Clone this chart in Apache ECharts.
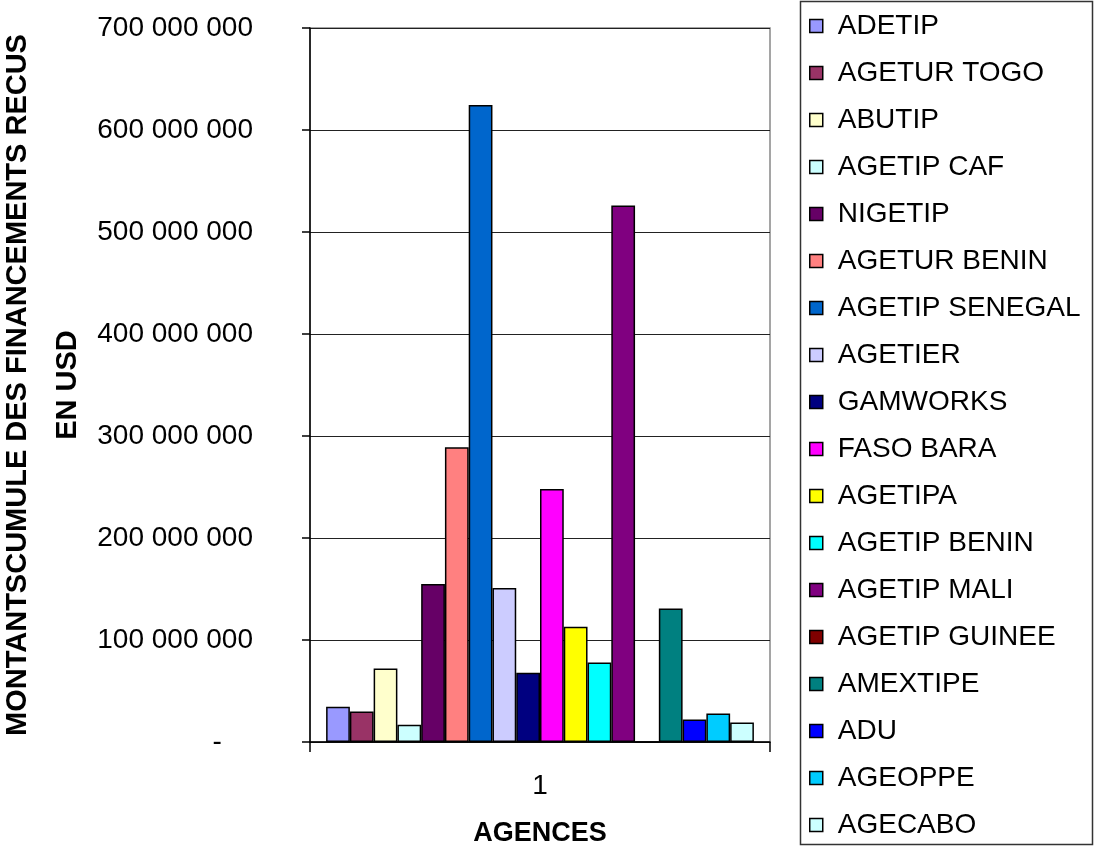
<!DOCTYPE html>
<html>
<head>
<meta charset="utf-8">
<title>Financements reçus par agence</title>
<script src="https://cdn.jsdelivr.net/npm/echarts@6/dist/echarts.min.js"></script>
<style>
  html, body { margin: 0; padding: 0; background: #fff; }
  #chartAgences { width: 1095px; height: 848px; }
</style>
</head>
<body>
<div id="chartAgences"></div>
<script>
// categorie unique de l'axe x
let categories = ['1']
// agences (une serie par agence)
let agences = ['ADETIP', 'AGETUR TOGO', 'ABUTIP', 'AGETIP CAF', 'NIGETIP', 'AGETUR BENIN', 'AGETIP SENEGAL', 'AGETIER', 'GAMWORKS', 'FASO BARA', 'AGETIPA', 'AGETIP BENIN', 'AGETIP MALI', 'AGETIP GUINEE', 'AMEXTIPE', 'ADU', 'AGEOPPE', 'AGECABO']
// montants cumules en USD
let montants = [34500000, 29800000, 72000000, 17000000, 155000000, 289000000, 624500000, 151000000, 68000000, 248000000, 113000000, 78000000, 526000000, 0, 131000000, 22000000, 28000000, 19000000]
// couleurs de la palette excel
let couleurs = ['#9999FF', '#993366', '#FFFFCC', '#CCFFFF', '#660066', '#FF8080', '#0066CC', '#CCCCFF', '#000080', '#FF00FF', '#FFFF00', '#00FFFF', '#800080', '#800000', '#008080', '#0000FF', '#00CCFF', '#CCFFFF']
// graduations de l'axe y
let yMin = 0
let yMax = 700000000
let yInterval = 100000000

let police = 'Liberation Sans, Arial, sans-serif'

// format "700 000 000", le zero s'affiche "-"
function formatMontant (v) {
  if (v === 0) {
    return '-    '
  }
  return String(v).replace(/\B(?=(\d{3})+(?!\d))/g, ' ')
}

let series = []
agences.forEach((nom, i) => {
  series.push({
    name: nom,
    type: 'bar',
    barGap: 0,
    barCategoryGap: '7%',
    itemStyle: {
      color: couleurs[i],
      borderColor: '#000',
      borderWidth: 1.5
    },
    data: [montants[i]]
  })
})

let chart = echarts.init(document.getElementById('chartAgences'))
let options = {
  animation: false,
  color: couleurs,
  textStyle: { fontFamily: police },
  grid: {
    left: 310,
    right: 325,
    top: 28,
    bottom: 106,
    outerBoundsMode: 'none',
    containLabel: false,
    show: true,
    borderColor: '#888',
    borderWidth: 1.5
  },
  legend: {
    orient: 'vertical',
    left: 809,
    top: 12,
    height: 900,
    padding: 0,
    icon: 'rect',
    itemWidth: 13,
    itemHeight: 13,
    itemGap: 19,
    itemStyle: { borderColor: '#000', borderWidth: 1.5 },
    textStyle: {
      fontSize: 28,
      lineHeight: 24,
      color: '#000',
      padding: [0, 0, 0, 10]
    },
    data: agences
  },
  graphic: [
    {
      type: 'rect',
      shape: { x: 800.5, y: 1.5, width: 292, height: 843 },
      style: { fill: null, stroke: '#333', lineWidth: 1.5 },
      z: -1
    }
  ],
  xAxis: {
    type: 'category',
    data: categories,
    name: 'AGENCES',
    nameLocation: 'middle',
    nameGap: 78,
    nameTextStyle: { fontSize: 27, fontWeight: 'bold', color: '#000' },
    axisLine: { lineStyle: { color: '#000', width: 1.5 } },
    axisTick: { show: true, length: 10, lineStyle: { color: '#000', width: 1.5 } },
    axisLabel: { fontSize: 28, color: '#000', margin: 30 }
  },
  yAxis: {
    type: 'value',
    min: yMin,
    max: yMax,
    interval: yInterval,
    name: 'MONTANTSCUMULE DES FINANCEMENTS RECUS\nEN USD',
    nameLocation: 'middle',
    nameGap: 217,
    nameTextStyle: { fontSize: 29, fontWeight: 'bold', color: '#000', lineHeight: 50 },
    axisLine: { show: true, lineStyle: { color: '#000', width: 1.5 } },
    axisTick: { show: true, length: 8, lineStyle: { color: '#000', width: 1.5 } },
    axisLabel: { fontSize: 28, color: '#000', margin: 57, formatter: formatMontant },
    splitLine: { show: true, lineStyle: { color: '#222', width: 1.2 } }
  },
  series: series
}
chart.setOption(options)
</script>
</body>
</html>
